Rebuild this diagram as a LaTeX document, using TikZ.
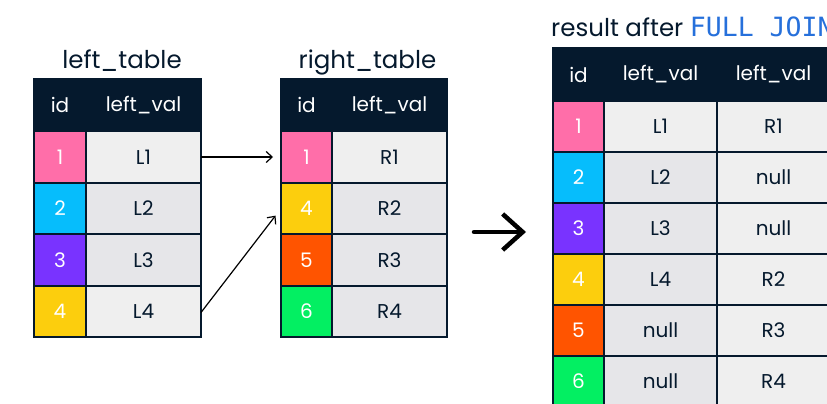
\documentclass[tikz,border=0pt]{standalone}
\usepackage{fontspec}
\setmainfont{Poppins}
\setmonofont{DejaVu Sans Mono}
\usetikzlibrary{arrows.meta}
\definecolor{navy}{HTML}{05192D}
\definecolor{idPink}{HTML}{FF6EA9}
\definecolor{idBlue}{HTML}{06BDFC}
\definecolor{idPurple}{HTML}{7933FF}
\definecolor{idYellow}{HTML}{FCCE0D}
\definecolor{idOrange}{HTML}{FF5400}
\definecolor{idGreen}{HTML}{03EF62}
\definecolor{cellLight}{HTML}{EFEFEF}
\definecolor{cellDark}{HTML}{E6E6E9}
\definecolor{joinBlue}{HTML}{2670DB}
\tikzset{headBox/.style={draw=navy, fill=navy, text=white, line width=2pt, inner sep=0pt, outer sep=0pt, font=\fontsize{20}{20}\selectfont}}
\tikzset{idBox/.style={draw=navy, text=white, line width=2pt, inner sep=0pt, outer sep=0pt, minimum height=51.5pt, font=\fontsize{20}{20}\selectfont}}
\tikzset{valBox/.style={draw=navy, text=navy, line width=2pt, inner sep=0pt, outer sep=0pt, minimum height=51.5pt, font=\fontsize{20}{20}\selectfont}}
\tikzset{tableTitle/.style={text=navy, inner sep=0pt, anchor=base, font=\fontsize{24.5}{24.5}\selectfont}}
\tikzset{matchArrow/.style={-{Straight Barb[length=6pt,width=11pt]}, line width=1.2pt, black}}

\begin{document}
\begin{tikzpicture}[x=1pt, y=-1pt]

\clip (0,0) rectangle (827,404);
\fill[white] (0,0) rectangle (827,404);

\node[tableTitle] (ltitle) at (122, 69) {left\_table};

\node[headBox, minimum width=52pt, minimum height=52pt] (lhid) at (60, 105) {id};
\node[headBox, minimum width=115pt, minimum height=52pt] (lhval) at (143.5, 105) {left\_val};

\node[idBox, fill=idPink, minimum width=52pt] (lid1) at (60, 157) {1};
\node[valBox, fill=cellLight, minimum width=115pt] (l1) at (143.5, 157) {L1};
\node[idBox, fill=idBlue, minimum width=52pt] (lid2) at (60, 208.5) {2};
\node[valBox, fill=cellDark, minimum width=115pt] (l2) at (143.5, 208.5) {L2};
\node[idBox, fill=idPurple, minimum width=52pt] (lid3) at (60, 260) {3};
\node[valBox, fill=cellDark, minimum width=115pt] (l3) at (143.5, 260) {L3};
\node[idBox, fill=idYellow, minimum width=52pt] (lid4) at (60, 311.5) {4};
\node[valBox, fill=cellLight, minimum width=115pt] (l4) at (143.5, 311.5) {L4};

\node[tableTitle] (rtitle) at (367.5, 69) {right\_table};

\node[headBox, minimum width=51pt, minimum height=52pt] (rhid) at (306.5, 105) {id};
\node[headBox, minimum width=115pt, minimum height=52pt] (rhval) at (389.5, 105) {left\_val};

\node[idBox, fill=idPink, minimum width=51pt] (rid1) at (306.5, 157) {1};
\node[valBox, fill=cellLight, minimum width=115pt] (r1) at (389.5, 157) {R1};
\node[idBox, fill=idYellow, minimum width=51pt] (rid2) at (306.5, 208.5) {4};
\node[valBox, fill=cellDark, minimum width=115pt] (r2) at (389.5, 208.5) {R2};
\node[idBox, fill=idOrange, minimum width=51pt] (rid3) at (306.5, 260) {5};
\node[valBox, fill=cellDark, minimum width=115pt] (r3) at (389.5, 260) {R3};
\node[idBox, fill=idGreen, minimum width=51pt] (rid4) at (306.5, 311.5) {6};
\node[valBox, fill=cellDark, minimum width=115pt] (r4) at (389.5, 311.5) {R4};

\draw[matchArrow, shorten >=8pt] (l1.east) -- (rid1.west);
\draw[matchArrow, shorten >=9pt] ([yshift=-1pt]l4.east) -- (rid2.west);

\coordinate (jfrom) at (474, 232);
\coordinate (jto) at (526, 232);
\draw[-{Straight Barb[length=20pt,width=36pt]}, line width=4.5pt, line cap=round, black] (jfrom) -- (jto);

\node[tableTitle, anchor=base west] (otitle) at (551, 37) {result after \textcolor{joinBlue}{\fontsize{26.5}{26.5}\selectfont\texttt{FULL JOIN}}};

\node[headBox, minimum width=51pt, minimum height=53pt] (ohid) at (578.5, 74.5) {id};
\node[headBox, minimum width=113pt, minimum height=53pt] (ohl) at (660.5, 74.5) {left\_val};
\node[headBox, minimum width=113pt, minimum height=53pt] (ohr) at (773.5, 74.5) {left\_val};

\node[idBox, fill=idPink, minimum width=51pt, minimum height=51pt] (oid1) at (578.5, 126.5) {1};
\node[valBox, fill=cellLight, minimum width=113pt, minimum height=51pt] (ol1) at (660.5, 126.5) {L1};
\node[valBox, fill=cellLight, minimum width=113pt, minimum height=51pt] (or1) at (773.5, 126.5) {R1};
\node[idBox, fill=idBlue, minimum width=51pt, minimum height=51pt] (oid2) at (578.5, 177.5) {2};
\node[valBox, fill=cellDark, minimum width=113pt, minimum height=51pt] (ol2) at (660.5, 177.5) {L2};
\node[valBox, fill=cellLight, minimum width=113pt, minimum height=51pt] (or2) at (773.5, 177.5) {null};
\node[idBox, fill=idPurple, minimum width=51pt, minimum height=51pt] (oid3) at (578.5, 228.5) {3};
\node[valBox, fill=cellDark, minimum width=113pt, minimum height=51pt] (ol3) at (660.5, 228.5) {L3};
\node[valBox, fill=cellLight, minimum width=113pt, minimum height=51pt] (or3) at (773.5, 228.5) {null};
\node[idBox, fill=idYellow, minimum width=51pt, minimum height=51pt] (oid4) at (578.5, 279.5) {4};
\node[valBox, fill=cellDark, minimum width=113pt, minimum height=51pt] (ol4) at (660.5, 279.5) {L4};
\node[valBox, fill=cellLight, minimum width=113pt, minimum height=51pt] (or4) at (773.5, 279.5) {R2};
\node[idBox, fill=idOrange, minimum width=51pt, minimum height=51pt] (oid5) at (578.5, 330.5) {5};
\node[valBox, fill=cellDark, minimum width=113pt, minimum height=51pt] (ol5) at (660.5, 330.5) {null};
\node[valBox, fill=cellLight, minimum width=113pt, minimum height=51pt] (or5) at (773.5, 330.5) {R3};
\node[idBox, fill=idGreen, minimum width=51pt, minimum height=51pt] (oid6) at (578.5, 381.5) {6};
\node[valBox, fill=cellDark, minimum width=113pt, minimum height=51pt] (ol6) at (660.5, 381.5) {null};
\node[valBox, fill=cellLight, minimum width=113pt, minimum height=51pt] (or6) at (773.5, 381.5) {R4};

\end{tikzpicture}
\end{document}
